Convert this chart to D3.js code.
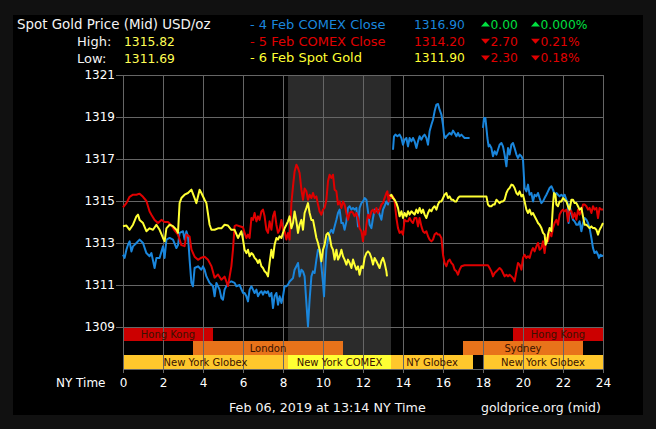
<!DOCTYPE html>
<html>
<head>
<meta charset="utf-8">
<script src="https://cdn.jsdelivr.net/npm/d3@7"></script>
<style>
  body { margin: 0; background: #111; }
  svg { display: block; font-family: "DejaVu Sans", Verdana, sans-serif; }
</style>
</head>
<body>
<svg width="656" height="429"></svg>
<script>
// ---- data (NY time hours / USD per oz) ----
var hourTicks = [0, 2, 4, 6, 8, 10, 12, 14, 16, 18, 20, 22, 24];
var priceTicks = [1309, 1311, 1313, 1315, 1317, 1319, 1321];

// 4 Feb COMEX Close (blue), null = gap
var feb4Hours = [0, 0.08, 0.17, 0.25, 0.33, 0.42, 0.5, 0.67, 0.83, 1, 1.17, 1.33, 1.42, 1.58, 1.67, 1.83, 2, 2.08, 2.17, 2.33, 2.5, 2.67, 2.75, 2.83, 3, 3.08, 3.17, 3.25, 3.33, 3.42, 3.5, 3.58, 3.75, 3.92, 4, 4.08, 4.17, 4.33, 4.5, 4.58, 4.67, 4.83, 4.92, 5, 5.08, 5.25, 5.42, 5.58, 5.67, 5.83,
  6, 6.08, 6.17, 6.25, 6.33, 6.42, 6.5, 6.58, 6.67, 6.75, 6.83, 6.92, 7, 7.08, 7.17, 7.25, 7.33, 7.42, 7.5, 7.58, 7.67, 7.75, 7.83, 7.92, 8, 8.08, 8.17, 8.25, 8.33, 8.42, 8.5, 8.58, 8.67, 8.75, 8.83, 8.92, 9, 9.08, 9.17, 9.25, 9.33, 9.42, 9.5, 9.58, 9.67, 9.75, 9.83, 9.92, 10, 10.05, 10.12, 10.17, 10.25, 10.33, 10.42, 10.5, 10.58, 10.67, 10.75, 10.83, 10.92, 11, 11.08, 11.17, 11.25, 11.33, 11.42, 11.5, 11.58, 11.67, 11.75, 11.83, 11.92,
  12, 12.08, 12.17, 12.25, 12.33, 12.42, 12.5, 12.58, 12.67, 12.75, 12.83, 12.92, 13, 13.08, 13.17, 13.25, 13.33, 13.42, 13.46,
  13.5, 13.55, 13.62, 13.72, 13.83, 13.92, 14, 14.08, 14.17, 14.25, 14.33, 14.42, 14.5, 14.58, 14.67, 14.75, 14.83, 14.92, 15, 15.08, 15.17, 15.25, 15.33, 15.42, 15.5, 15.58, 15.67, 15.75, 15.83, 15.92, 16, 16.05, 16.12, 16.17, 16.25, 16.33, 16.42, 16.5, 16.58, 16.67, 16.75, 16.83, 16.92, 17, 17.08, 17.17, 17.25, 17.33, 17.6,
  18, 18.05, 18.12, 18.17, 18.22, 18.28, 18.33, 18.42, 18.5, 18.58, 18.67, 18.75, 18.83, 18.92, 19, 19.08, 19.17, 19.25, 19.33, 19.42, 19.5, 19.58, 19.67, 19.75, 19.83, 19.92, 20, 20.05, 20.08, 20.17, 20.25, 20.33, 20.42, 20.5, 20.58, 20.67, 20.75, 20.83, 20.92, 21, 21.08, 21.17, 21.25, 21.33, 21.42, 21.5, 21.58, 21.67, 21.75, 21.83, 21.92, 22, 22.08, 22.17, 22.25, 22.28, 22.33, 22.42, 22.5, 22.58, 22.67, 22.75, 22.83, 22.92, 23, 23.08, 23.17, 23.25, 23.33, 23.42, 23.5, 23.58, 23.67, 23.75, 23.8, 23.87, 24];
var feb4Prices = [1312.44, 1312.29, 1312.68, 1312.92, 1313.08, 1312.6, 1312.84, 1313.0, 1313.16, 1313.0, 1312.52, 1312.37, 1312.52, 1311.81, 1312.29, 1312.29, 1312.84, 1312.29, 1313.16, 1313.24, 1313.16, 1312.76, 1312.9, 1313.48, 1313.56, 1313.16, 1313.56, 1313.32, 1312.21, 1311.1, 1310.94, 1311.81, 1311.89, 1311.73, 1311.89, 1311.73, 1311.41, 1311.1, 1310.94, 1310.46, 1311.1, 1310.78, 1310.38, 1310.3, 1310.78, 1311.1, 1311.17, 1311.1, 1310.94, 1311.0,
  1310.62, 1310.62, 1310.46, 1310.22, 1310.78, 1310.94, 1310.78, 1310.62, 1310.78, 1310.46, 1310.62, 1310.7, 1310.54, 1310.7, 1310.62, 1310.7, 1310.46, 1310.62, 1309.9, 1310.46, 1310.62, 1310.06, 1310.46, 1310.14, 1310.46, 1310.94, 1310.94, 1311.02, 1311.17, 1311.25, 1311.33, 1311.73, 1311.89, 1312.05, 1311.41, 1311.73, 1311.65, 1311.41, 1310.14, 1309.03, 1310.3, 1311.41, 1311.65, 1311.57, 1312.21, 1312.68, 1312.68, 1311.89, 1311.1, 1310.46, 1311.89, 1312.68, 1313.16, 1313.48, 1313.63, 1313.48, 1313.79, 1314.11, 1314.43, 1314.59, 1313.95, 1313.95, 1313.63, 1314.03, 1314.67, 1314.75, 1314.59, 1314.67, 1314.59, 1314.67, 1313.79, 1314.67, 1314.9,
  1314.98, 1315.14, 1315.06, 1314.51, 1313.87, 1313.71, 1314.19, 1314.59, 1314.51, 1314.59, 1314.35, 1314.11, 1314.59, 1314.75, 1314.98, 1314.83, 1315.22, 1315.14, null,
  1317.44, 1318.08, 1318.16, 1318.08, 1318.16, 1318.0, 1317.68, 1317.92, 1318.0, 1317.6, 1318.0, 1317.84, 1318.0, 1317.84, 1317.52, 1317.84, 1318.08, 1317.92, 1318.08, 1318.16, 1318.0, 1317.68, 1318.32, 1318.63, 1318.87, 1319.27, 1319.59, 1319.62, 1319.35, 1319.11, 1318.63, 1318.16, 1318.0, 1318.08, 1318.16, 1318.24, 1318.16, 1318.35, 1318.24, 1318.08, 1318.24, 1318.08, 1318.16, 1318.08, 1318.0, 1318.0, 1318.0, 1318.0, null,
  1318.48, 1318.95, 1318.95, 1318.48, 1318.0, 1317.6, 1317.68, 1317.52, 1317.13, 1317.37, 1317.21, 1317.44, 1317.68, 1317.76, 1317.6, 1317.21, 1316.65, 1317.52, 1317.21, 1317.68, 1317.76, 1317.52, 1317.21, 1317.05, 1317.21, 1317.13, 1316.97, 1316.1, 1315.62, 1315.46, 1315.78, 1315.3, 1315.38, 1314.98, 1315.3, 1315.22, 1315.38, 1315.14, 1314.9, 1314.98, 1315.14, 1315.3, 1315.46, 1315.62, 1315.7, 1315.54, 1315.3, 1315.38, 1315.3, 1315.22, 1315.3, 1315.22, 1315.3, 1315.06, 1314.83, 1313.95, 1314.83, 1314.35, 1314.11, 1314.03, 1313.87, 1313.87, 1314.03, 1313.56, 1313.95, 1314.19, 1314.11, 1313.95, 1313.71, 1313.24, 1312.76, 1312.52, 1312.6, 1312.44, 1312.29, 1312.44, 1312.37];

// 5 Feb COMEX Close (red)
var feb5Hours = [0, 0.17, 0.33, 0.5, 0.67, 0.83, 1, 1.17, 1.33, 1.42, 1.58, 1.75, 1.92, 2.08, 2.25, 2.42, 2.58, 2.75, 2.92, 3.08, 3.17, 3.33, 3.42, 3.58, 3.75, 3.92, 4.08, 4.25, 4.42, 4.58, 4.75, 4.92, 5.08, 5.25, 5.42, 5.5, 5.58, 5.67, 5.83,
  6, 6.08, 6.17, 6.25, 6.33, 6.42, 6.5, 6.58, 6.67, 6.75, 6.83, 6.92, 7, 7.08, 7.17, 7.25, 7.33, 7.42, 7.5, 7.58, 7.67, 7.75, 7.83, 7.92, 8, 8.08, 8.17, 8.25, 8.33, 8.42, 8.5, 8.58, 8.67, 8.75, 8.83, 8.92, 9, 9.08, 9.17, 9.25, 9.33, 9.42, 9.5, 9.58, 9.67, 9.75, 9.83, 9.92, 10, 10.08, 10.17, 10.25, 10.33, 10.42, 10.5, 10.58, 10.67, 10.75, 10.83, 10.92, 11, 11.08, 11.17, 11.25, 11.33, 11.42, 11.5, 11.58, 11.67, 11.75, 11.83, 11.92,
  12, 12.05, 12.12, 12.17, 12.25, 12.33, 12.42, 12.5, 12.58, 12.67, 12.75, 12.83, 12.92, 13, 13.08, 13.17, 13.22, 13.28, 13.33, 13.42, 13.5, 13.58, 13.67, 13.75, 13.83, 13.92, 14, 14.08, 14.17, 14.25, 14.33, 14.42, 14.5, 14.58, 14.67, 14.75, 14.83, 14.92, 15, 15.08, 15.17, 15.25, 15.33, 15.42, 15.5, 15.58, 15.67, 15.75, 15.83, 15.92, 16, 16.08, 16.17, 16.25, 16.33, 16.42, 16.5, 16.58, 16.67, 16.75, 16.83, 16.92, 17.08, 18.25,
  18.33, 18.42, 18.5, 18.58, 18.67, 18.75, 18.83, 18.92, 19, 19.08, 19.17, 19.25, 19.33, 19.42, 19.5, 19.58, 19.67, 19.75, 19.83, 19.92, 20, 20.08, 20.17, 20.25, 20.33, 20.42, 20.5, 20.58, 20.67, 20.75, 20.83, 20.92, 21, 21.08, 21.17, 21.25, 21.33, 21.42, 21.5, 21.58, 21.67, 21.75, 21.83, 21.92, 22, 22.08, 22.17, 22.25, 22.33, 22.42, 22.5, 22.58, 22.67, 22.75, 22.83, 22.92, 23, 23.08, 23.17, 23.25, 23.33, 23.42, 23.5, 23.58, 23.67, 23.75, 23.83, 23.92, 24];
var feb5Prices = [1314.7, 1314.9, 1315.2, 1315.3, 1315.3, 1315.35, 1315.2, 1315.0, 1314.5, 1314.35, 1314.1, 1313.95, 1314.1, 1314.0, 1314.0, 1313.85, 1313.6, 1313.4, 1312.9, 1312.85, 1313.4, 1313.3, 1312.7, 1312.35, 1312.2, 1312.3, 1312.35, 1312.2, 1311.9, 1311.35, 1311.5, 1311.25, 1311.4, 1310.95, 1311.9, 1312.7, 1313.8, 1313.85, 1313.8,
  1313.75, 1313.48, 1313.24, 1313.4, 1313.24, 1314.19, 1314.1, 1314.43, 1314.03, 1314.27, 1314.1, 1314.5, 1314.59, 1314.27, 1313.63, 1313.48, 1314.03, 1313.63, 1314.27, 1314.5, 1313.87, 1313.48, 1313.63, 1314.1, 1313.63, 1313.56, 1313.16, 1313.48, 1313.16, 1314.9, 1315.7, 1316.41, 1316.73, 1316.57, 1316.33, 1315.54, 1315.06, 1315.6, 1315.46, 1315.06, 1315.3, 1315.14, 1315.38, 1315.14, 1315.22, 1314.83, 1314.5, 1314.35, 1314.59, 1314.67, 1315.06, 1315.94, 1316.25, 1316.1, 1316.25, 1315.54, 1315.46, 1314.83, 1314.98, 1314.67, 1314.98, 1314.83, 1314.43, 1314.1, 1314.43, 1314.5, 1314.43, 1314.27, 1314.43, 1314.19, 1313.7, 1313.56,
  1313.08, 1313.56, 1313.4, 1313.87, 1314.35, 1314.19, 1314.51, 1314.59, 1314.43, 1314.67, 1314.43, 1314.59, 1314.83, 1314.9, 1315.14, 1315.38, 1315.46, 1314.98, 1315.3, 1315.14, 1315.22, 1314.98, 1314.19, 1313.71, 1313.48, 1313.56, 1313.4, 1314.11, 1314.03, 1314.03, 1314.19, 1314.03, 1313.95, 1314.19, 1314.19, 1313.79, 1314.19, 1313.79, 1313.56, 1313.48, 1313.56, 1313.32, 1313.16, 1313.08, 1313.16, 1313.4, 1313.48, 1313.4, 1313.4, 1313.24, 1312.44, 1312.05, 1311.89, 1312.13, 1312.21, 1312.05, 1311.97, 1311.73, 1311.65, 1311.49, 1311.73, 1311.89, 1311.94, 1311.94,
  1311.81, 1311.65, 1311.41, 1311.57, 1311.65, 1311.73, 1311.81, 1311.73, 1311.57, 1311.41, 1311.49, 1311.41, 1311.49, 1311.41, 1311.33, 1311.17, 1311.65, 1312.05, 1311.97, 1311.73, 1312.29, 1312.44, 1312.29, 1312.37, 1312.29, 1312.6, 1312.76, 1312.6, 1312.84, 1313.0, 1312.68, 1312.76, 1313.08, 1312.52, 1313.24, 1313.08, 1313.48, 1313.32, 1313.71, 1313.95, 1314.11, 1313.87, 1314.35, 1314.51, 1314.59, 1314.51, 1314.59, 1314.03, 1314.59, 1314.51, 1314.19, 1314.43, 1314.11, 1314.59, 1314.35, 1314.51, 1314.83, 1314.83, 1314.75, 1314.59, 1314.67, 1314.43, 1314.75, 1314.59, 1314.67, 1314.19, 1314.67, 1314.59, 1314.59];

// 6 Feb Spot Gold (yellow)
var feb6Hours = [0, 0.17, 0.33, 0.5, 0.67, 0.75, 0.83, 1, 1.17, 1.33, 1.5, 1.67, 1.83, 2, 2.08, 2.17, 2.33, 2.5, 2.67, 2.75, 2.83, 2.92, 3.08, 3.25, 3.42, 3.58, 3.67, 3.83, 3.92, 4.08, 4.17, 4.33, 4.42, 4.58, 4.75, 4.92, 5.08, 5.25, 5.42, 5.58, 5.75, 5.92,
  6, 6.08, 6.17, 6.25, 6.33, 6.42, 6.5, 6.58, 6.67, 6.75, 6.83, 6.92, 7, 7.08, 7.17, 7.25, 7.33, 7.42, 7.5, 7.58, 7.67, 7.75, 7.83, 7.92, 8, 8.08, 8.17, 8.25, 8.33, 8.42, 8.5, 8.58, 8.67, 8.75, 8.83, 8.92, 9, 9.08, 9.17, 9.25, 9.33, 9.42, 9.5, 9.58, 9.67, 9.75, 9.83, 9.92, 10, 10.08, 10.17, 10.25, 10.33, 10.42, 10.5, 10.58, 10.67, 10.75, 10.83, 10.92, 11, 11.08, 11.17, 11.25, 11.33, 11.42, 11.5, 11.58, 11.67, 11.75, 11.83, 11.92,
  12, 12.08, 12.17, 12.25, 12.33, 12.42, 12.5, 12.58, 12.67, 12.83, 12.92, 13, 13.08, 13.17, 13.2, 13.28,
  13.35, 13.42, 13.5, 13.58, 13.67, 13.75, 13.83, 13.92, 14, 14.08, 14.17, 14.25, 14.33, 14.42, 14.5, 14.58, 14.67, 14.75, 14.83, 14.92, 15, 15.08, 15.17, 15.25, 15.33, 15.42, 15.5, 15.58, 15.67, 15.75, 15.83, 15.92, 16, 16.08, 16.17, 16.25, 16.33, 16.42, 16.5, 16.58, 16.67, 16.75, 16.83, 17, 18.17,
  18.25, 18.33, 18.42, 18.5, 18.58, 18.67, 18.75, 18.83, 18.92, 19, 19.08, 19.17, 19.25, 19.33, 19.42, 19.5, 19.58, 19.67, 19.75, 19.83, 19.92, 20, 20.08, 20.17, 20.25, 20.33, 20.42, 20.5, 20.58, 20.67, 20.75, 20.83, 20.92, 21, 21.08, 21.13, 21.2, 21.25, 21.33, 21.42, 21.5, 21.55, 21.62, 21.67, 21.75, 21.83, 21.92, 22, 22.08, 22.17, 22.25, 22.33, 22.42, 22.5, 22.58, 22.67, 22.75, 22.83, 22.92, 23, 23.08, 23.17, 23.25, 23.33, 23.42, 23.5, 23.58, 23.67, 23.75, 23.83, 23.92, 24];
var feb6Prices = [1313.8, 1313.83, 1313.63, 1313.87, 1314.27, 1314.35, 1314.1, 1313.95, 1313.56, 1313.7, 1313.63, 1313.87, 1313.63, 1313.24, 1313.08, 1313.7, 1313.87, 1313.8, 1313.63, 1313.48, 1314.9, 1315.14, 1315.3, 1315.38, 1315.54, 1315.14, 1314.9, 1315.54, 1315.38, 1315.06, 1314.9, 1313.87, 1313.63, 1313.63, 1313.7, 1313.7, 1313.87, 1313.83, 1313.63, 1313.63, 1313.24, 1313.56,
  1313.16, 1312.68, 1312.52, 1312.68, 1312.37, 1312.52, 1312.45, 1312.29, 1312.2, 1312.05, 1312.2, 1311.89, 1311.81, 1311.65, 1311.57, 1311.41, 1312.05, 1312.68, 1312.29, 1312.92, 1313.24, 1313.16, 1313.32, 1313.24, 1313.48, 1313.7, 1313.87, 1314.03, 1314.27, 1313.7, 1313.95, 1314.5, 1314.03, 1313.48, 1313.87, 1314.1, 1313.63, 1314.43, 1314.67, 1314.9, 1314.43, 1314.1, 1314.1, 1313.7, 1313.24, 1313.0, 1312.68, 1312.13, 1312.68, 1312.92, 1313.4, 1313.48, 1313.32, 1312.84, 1312.68, 1312.21, 1312.68, 1312.21, 1312.37, 1312.68, 1312.37, 1312.21, 1311.97, 1312.21, 1312.05, 1311.81, 1312.21, 1311.97, 1311.73, 1311.89, 1311.49, 1311.89,
  1311.81, 1312.29, 1312.52, 1312.6, 1312.52, 1312.29, 1311.97, 1312.29, 1312.13, 1311.81, 1312.13, 1312.29, 1312.05, 1311.65, 1311.41, null,
  1315.22, 1315.3, 1315.14, 1315.06, 1314.9, 1314.67, 1314.27, 1314.51, 1314.19, 1314.43, 1314.27, 1314.51, 1314.35, 1314.51, 1314.43, 1314.35, 1314.59, 1314.43, 1314.67, 1314.43, 1314.59, 1314.35, 1314.19, 1314.43, 1314.59, 1314.51, 1314.67, 1314.75, 1314.59, 1314.83, 1314.98, 1314.98, 1315.14, 1315.3, 1315.38, 1315.14, 1315.22, 1315.06, 1315.06, 1314.98, 1314.98, 1315.14, 1315.22, 1315.22, 1315.22,
  1314.83, 1314.75, 1314.75, 1314.83, 1314.83, 1315.06, 1314.98, 1314.9, 1314.98, 1314.98, 1315.06, 1315.38, 1315.54, 1315.62, 1315.78, 1315.75, 1315.62, 1315.38, 1315.3, 1315.46, 1315.22, 1315.3, 1314.98, 1314.59, 1314.43, 1314.59, 1314.35, 1314.43, 1314.27, 1314.11, 1313.95, 1313.87, 1313.71, 1313.48, 1313.4, 1312.92, 1313.08, 1313.4, 1313.71, 1313.56, 1314.83, 1315.38, 1315.3, 1314.83, 1314.75, 1314.98, 1314.98, 1315.14, 1315.06, 1314.98, 1314.75, 1314.59, 1315.06, 1315.06, 1314.9, 1314.9, 1314.75, 1314.59, 1314.67, 1314.27, 1313.87, 1313.87, 1313.79, 1313.71, 1313.79, 1313.71, 1313.71, 1313.63, 1313.4, 1313.63, 1313.79, 1313.95];

// trading sessions under the plot
var sessionNames = ["Hong Kong", "Hong Kong", "London", "Sydney", "New York Globex", "New York COMEX", "NY Globex", "New York Globex"];
var sessionStart = [0, 19.5, 3.5, 17, 0, 8.25, 13.4, 18];
var sessionEnd = [4.5, 24, 11, 23, 8.25, 13.4, 17.5, 24];
var sessionRow = ["asia", "asia", "europe", "europe", "us", "us", "us", "us"];

// highlighted COMEX window
var comexWindow = [8.25, 13.4];

// header
var legendLabels = ["- 4 Feb COMEX Close", "- 5 Feb COMEX Close", "- 6 Feb Spot Gold"];
var legendCloses = [1316.90, 1314.20, 1311.90];
var legendChanges = [0.00, -2.70, -2.30];
var legendPercents = [0.000, -0.21, -0.18];
var highLow = [1315.82, 1311.69];

// ---- drawing ----
var svg = d3.select("svg"),
    width = +svg.attr("width"),
    height = +svg.attr("height");

var seriesColors = ["#1a86dc", "#e00000", "#ffff33"];
var sessionColors = {"Hong Kong": "#cc0000", "London": "#e8731a", "Sydney": "#e8731a",
  "New York Globex": "#ffc72c", "NY Globex": "#ffc72c", "New York COMEX": "#ffff33"};
var gridColor = "#666";

svg.append("rect").attr("width", width).attr("height", height).attr("fill", "#111");
svg.append("rect").attr("x", 13).attr("y", 15).attr("width", 630).attr("height", 400).attr("fill", "#000");

var x = d3.scaleLinear().domain([0, 24]).range([123, 603]);
var y = d3.scaleLinear().domain([1309, 1321]).range([327, 75]);
var row = d3.scaleBand().domain(["asia", "europe", "us"]).range([y(1309), y(1309) + 42]);
var bottom = row.range()[1];

// COMEX shade
svg.append("rect")
  .attr("x", x(comexWindow[0]))
  .attr("y", y(1321))
  .attr("width", x(comexWindow[1]) - x(comexWindow[0]))
  .attr("height", bottom - y(1321))
  .attr("fill", "#2b2b2b");

// session bars
var sessions = sessionNames.map(function(n, i) {
  return {name: n, start: sessionStart[i], end: sessionEnd[i], row: sessionRow[i]};
});

svg.append("g").selectAll("rect")
  .data(sessions)
  .enter().append("rect")
    .attr("x", function(d) { return x(d.start); })
    .attr("y", function(d) { return row(d.row); })
    .attr("width", function(d) { return x(d.end) - x(d.start); })
    .attr("height", row.bandwidth())
    .attr("fill", function(d) { return sessionColors[d.name]; });

// grid
var grid = svg.append("g").attr("stroke", gridColor).attr("shape-rendering", "crispEdges");
grid.selectAll(".v").data(hourTicks).enter().append("line")
  .attr("x1", function(d) { return x(d) + 0.5; })
  .attr("x2", function(d) { return x(d) + 0.5; })
  .attr("y1", y(1321)).attr("y2", bottom);
grid.selectAll(".h").data(priceTicks).enter().append("line")
  .attr("x1", x(0)).attr("x2", x(24))
  .attr("y1", function(d) { return y(d) + 0.5; })
  .attr("y2", function(d) { return y(d) + 0.5; });

svg.append("g").selectAll("text")
  .data(sessions)
  .enter().append("text")
    .attr("x", function(d) { return (x(d.start) + x(d.end)) / 2; })
    .attr("y", function(d) { return row(d.row) + row.bandwidth() / 2 + 3.6; })
    .attr("text-anchor", "middle")
    .attr("font-size", "10px")
    .attr("fill", "#3a1200")
    .text(function(d) { return d.name; });

// axes
var yAxis = svg.append("g")
  .attr("transform", "translate(" + x(0) + ",0)")
  .call(d3.axisLeft(y).tickValues(priceTicks).tickFormat(d3.format("d")).tickSize(7).tickPadding(1));
var xAxis = svg.append("g")
  .attr("transform", "translate(0," + bottom + ")")
  .call(d3.axisBottom(x).tickValues(hourTicks).tickFormat(d3.format("d")).tickSize(4).tickPadding(5).tickSizeOuter(0));

[yAxis, xAxis].forEach(function(a) {
  a.select(".domain").attr("stroke", gridColor);
  a.selectAll(".tick line").attr("stroke", gridColor);
  a.selectAll("text").attr("fill", "#fff").attr("font-size", "12px").attr("font-family", "DejaVu Sans, Verdana, sans-serif");
});
yAxis.select(".domain").remove();

svg.append("text").attr("x", 56).attr("y", 387).attr("fill", "#fff").attr("font-size", "12px").text("NY Time");

// series
var line = d3.line()
  .defined(function(d) { return d[1] !== null; })
  .x(function(d) { return x(d[0]); })
  .y(function(d) { return y(d[1]); });

var series = [
  d3.zip(feb4Hours, feb4Prices),
  d3.zip(feb5Hours, feb5Prices),
  d3.zip(feb6Hours, feb6Prices)
];

svg.append("g").selectAll("path")
  .data(series)
  .enter().append("path")
    .attr("d", line)
    .attr("fill", "none")
    .attr("stroke", function(d, i) { return seriesColors[i]; })
    .attr("stroke-width", 2)
    .attr("stroke-linejoin", "round");

// header
var head = svg.append("g");
head.append("text").attr("x", 17).attr("y", 29).attr("fill", "#f4f4f4").attr("font-size", "13.4px")
  .text("Spot Gold Price (Mid) USD/oz");
head.append("text").attr("x", 77).attr("y", 46).attr("fill", "#f4f4f4").attr("font-size", "13px").text("High:");
head.append("text").attr("x", 77).attr("y", 63).attr("fill", "#f4f4f4").attr("font-size", "13px").text("Low:");
head.selectAll(".hl").data(highLow).enter().append("text")
  .attr("x", 124).attr("y", function(d, i) { return 46 + i * 17; })
  .attr("fill", "#ffff55").attr("font-size", "12.3px")
  .text(d3.format(".2f"));

var rowY = [29, 45.7, 62.4];
var up = "#00e040", down = "#e00000";

legendLabels.forEach(function(lbl, i) {
  var c = seriesColors[i];
  var yy = rowY[i];
  head.append("text").attr("x", 250).attr("y", yy).attr("fill", c).attr("font-size", "13px").text(lbl);
  head.append("text").attr("x", 414).attr("y", yy).attr("fill", c).attr("font-size", "12.3px")
    .text(d3.format(".2f")(legendCloses[i]));
  var dir = legendChanges[i] >= 0 ? up : down;
  var isUp = legendChanges[i] >= 0;
  [481, 531].forEach(function(tx, k) {
    var tri = isUp
      ? "M" + tx + "," + (yy - 2.5) + "L" + (tx + 9) + "," + (yy - 2.5) + "L" + (tx + 4.5) + "," + (yy - 7.5) + "Z"
      : "M" + tx + "," + (yy - 7) + "L" + (tx + 9) + "," + (yy - 7) + "L" + (tx + 4.5) + "," + (yy - 2) + "Z";
    head.append("path").attr("d", tri).attr("fill", dir);
    var txt = k === 0 ? d3.format(".2f")(Math.abs(legendChanges[i]))
      : (i === 0 ? d3.format(".3f")(Math.abs(legendPercents[i])) : d3.format(".2f")(Math.abs(legendPercents[i]))) + "%";
    head.append("text").attr("x", tx + 9.5).attr("y", yy).attr("fill", dir).attr("font-size", "12.3px").text(txt);
  });
});

// footer
svg.append("text").attr("x", 229).attr("y", 412).attr("fill", "#f4f4f4").attr("font-size", "12.7px")
  .text("Feb 06, 2019 at 13:14 NY Time");
svg.append("text").attr("x", 481).attr("y", 412).attr("fill", "#f4f4f4").attr("font-size", "12.5px")
  .text("goldprice.org (mid)");
</script>
</body>
</html>
